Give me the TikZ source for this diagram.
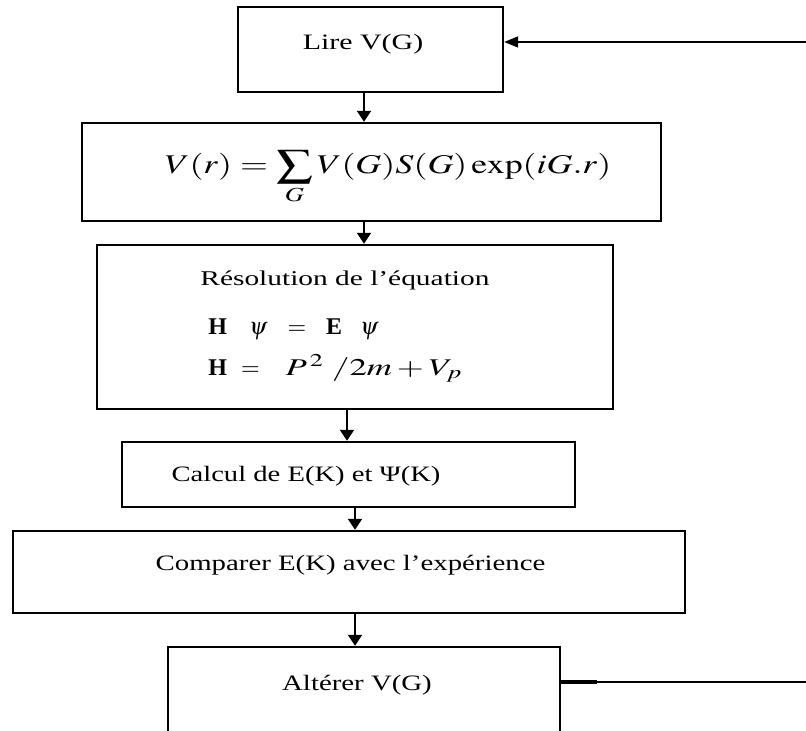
\documentclass[tikz,border=0pt]{standalone}
\usepackage{amsmath,amssymb}
\usepackage{mathptmx}
\usepackage{fontspec}
\setmainfont{Liberation Serif}
\usepackage{graphicx}
\usetikzlibrary{arrows.meta,positioning,calc}

% widen the text the way the original drawing does
\newcommand{\etire}[2][1.3]{\scalebox{#1}[1]{#2}}

\begin{document}
\begin{tikzpicture}[x=0.5pt, y=-0.5pt, >={Triangle[length=5.5pt,width=7pt]},
    boite/.style={draw, line width=1.2pt, inner sep=0pt},
    fleche/.style={->, line width=1pt},
    texte/.style={inner sep=0pt, anchor=base, font=\fontsize{11}{13}\selectfont}]
    \useasboundingbox (0,0) rectangle (806,731);

    % Draw the boxes
    \node[boite, minimum width=132.5pt, minimum height=42.5pt] (lire) at (370.5,49.5) {};
    \node[boite, minimum width=289.5pt, minimum height=49pt] (formule) at (371.5,172) {};
    \node[boite, minimum width=258pt, minimum height=82pt] (resol) at (355,327) {};
    \node[boite, minimum width=226.5pt, minimum height=32.5pt] (calcul) at (348.5,474.5) {};
    \node[boite, minimum width=336pt, minimum height=41pt] (comparer) at (349,572) {};
    \node[boite, minimum width=196pt, minimum height=56.5pt] (alterer) at (364,703.5) {};

    % Texts inside the boxes
    \node[texte] (liretxt) at (363,50) {\etire[1.36]{Lire V(G)}};
    \node[texte, font=\fontsize{13.5}{16}\selectfont] (formuletxt) at (388,174)
        {\etire[1.33]{$\displaystyle V(r)=\sum_{G}V(G)S(G)\exp(iG.r)$}};
    \node[texte, anchor=base west, font=\fontsize{10.5}{12}\selectfont] (resoltxt) at (200,286)
        {\etire[1.4]{Résolution de l’équation}};
    \node[texte, anchor=base west, font=\fontsize{12}{14}\selectfont] (schrod) at (208,335)
        {\textbf{H}\hspace{11pt}$\psi$\hspace{10pt}$=$\hspace{10pt}\textbf{E}\hspace{9pt}$\psi$};
    \node[texte, anchor=base west, font=\fontsize{12}{14}\selectfont] (hamil) at (208,375)
        {\textbf{H}\hspace{7pt}$=$\hspace{13pt}\etire[1.45]{$P^{\,2}\;/2m+V_{p}$}};
    \node[texte] (calcultxt) at (306,481) {\etire{Calcul de E(K) et Ψ(K)}};
    \node[texte] (comparertxt) at (350.5,570) {\etire[1.31]{Comparer E(K) avec l’expérience}};
    \node[texte] (alterertxt) at (357,690) {\etire[1.31]{Altérer V(G)}};

    % Draw the downward arrows
    \draw[fleche] ([xshift=-3.25pt]lire.south) -- ([xshift=-3.25pt]lire.south |- formule.north);
    \draw[fleche] ([xshift=-3.75pt]formule.south) -- ([xshift=-3.75pt]formule.south |- resol.north);
    \draw[fleche] ([xshift=-4pt]resol.south) -- ([xshift=-4pt]resol.south |- calcul.north);
    \draw[fleche] ([xshift=3.25pt]calcul.south) -- ([xshift=3.25pt]calcul.south |- comparer.north);
    \draw[fleche] ([xshift=3pt]comparer.south) -- ([xshift=3pt]comparer.south |- alterer.north);

    % Feedback loop back to the top box
    \coordinate (talon) at (597,682);
    \coordinate (retour) at (830,682);
    \coordinate (haut) at (830,42);
    \draw[line width=1.8pt] (alterer.east |- talon) -- (talon);
    \draw[-{Triangle[length=7pt,width=5.5pt]}, line width=0.9pt] (talon) -- (retour) -- (haut) -- (lire.east |- haut);
\end{tikzpicture}
\end{document}
